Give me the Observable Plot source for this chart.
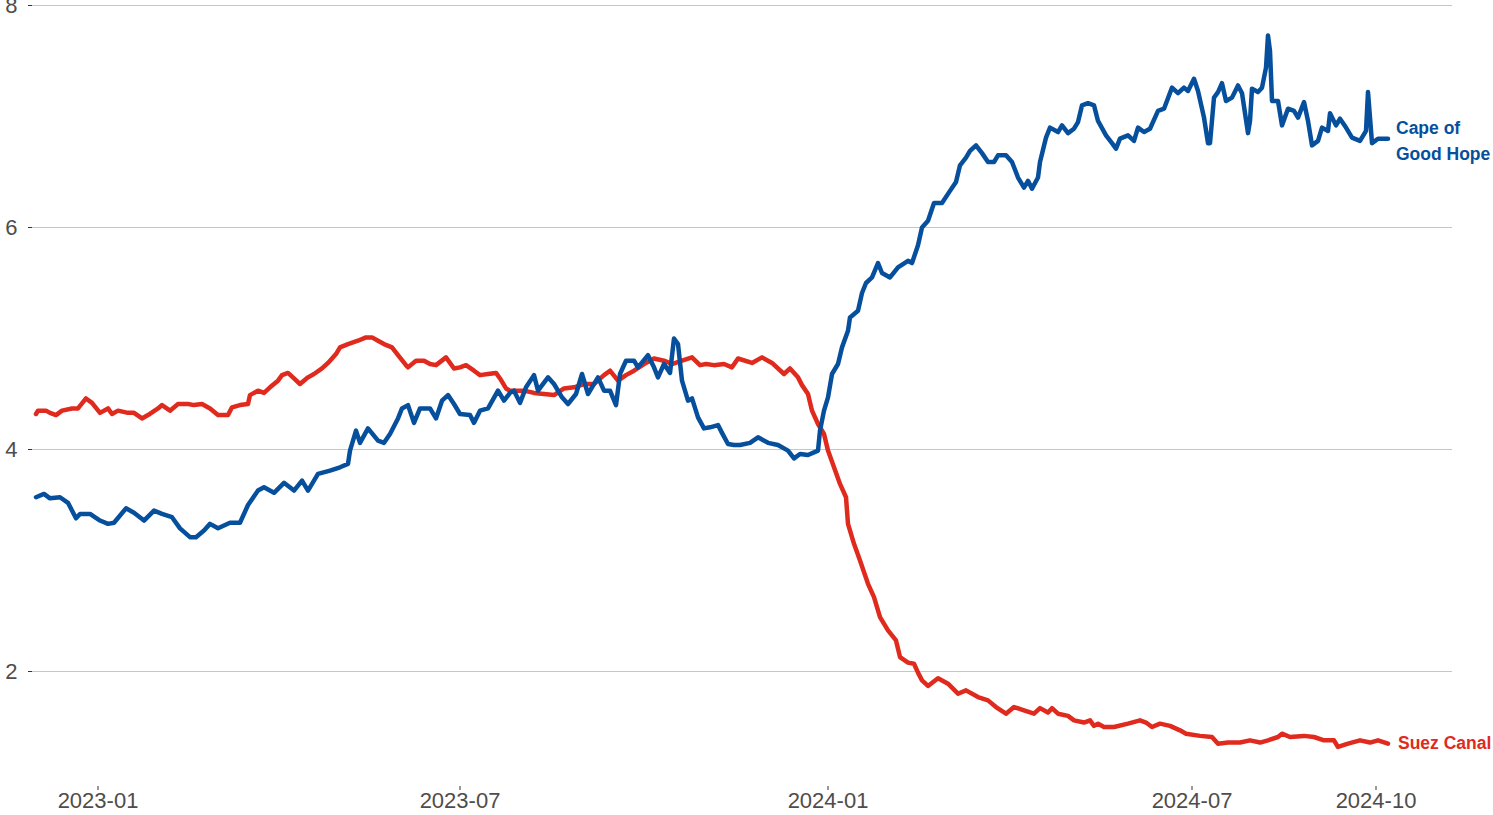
<!DOCTYPE html>
<html><head><meta charset="utf-8">
<script src="https://cdn.jsdelivr.net/npm/d3@7"></script>
<script src="https://cdn.jsdelivr.net/npm/@observablehq/plot@0.6"></script>
<style>html,body{margin:0;padding:0;background:#fff;overflow:hidden} svg{display:block}</style>
</head><body><div id="chart"></div>
<script>
// Cape of Good Hope route
const capeDates = [
"2022-12-01","2022-12-05","2022-12-08","2022-12-13","2022-12-17","2022-12-21","2022-12-23","2022-12-28",
"2023-01-02","2023-01-06","2023-01-09","2023-01-15","2023-01-19","2023-01-24","2023-01-29",
"2023-02-02","2023-02-07","2023-02-11","2023-02-16","2023-02-19","2023-02-23","2023-02-26",
"2023-03-02","2023-03-08","2023-03-13","2023-03-17","2023-03-22","2023-03-25","2023-03-30",
"2023-04-04","2023-04-09","2023-04-13","2023-04-16","2023-04-21","2023-04-27",
"2023-05-02","2023-05-06","2023-05-07","2023-05-10","2023-05-12","2023-05-16","2023-05-21","2023-05-24","2023-05-27","2023-05-31",
"2023-06-02","2023-06-05","2023-06-08","2023-06-11","2023-06-16","2023-06-19","2023-06-22","2023-06-25","2023-06-28",
"2023-07-01","2023-07-06","2023-07-08","2023-07-11","2023-07-15","2023-07-20","2023-07-23","2023-07-26","2023-07-28","2023-07-31",
"2023-08-03","2023-08-07","2023-08-09","2023-08-14","2023-08-17","2023-08-21","2023-08-24","2023-08-28","2023-08-31",
"2023-09-03","2023-09-08","2023-09-11","2023-09-14","2023-09-17","2023-09-19","2023-09-22","2023-09-26","2023-09-28",
"2023-10-03","2023-10-06","2023-10-08","2023-10-11","2023-10-14","2023-10-16","2023-10-18","2023-10-20","2023-10-23","2023-10-25","2023-10-28","2023-10-31",
"2023-11-03","2023-11-07","2023-11-09","2023-11-12","2023-11-15","2023-11-18","2023-11-23","2023-11-27",
"2023-12-02","2023-12-07","2023-12-12","2023-12-15","2023-12-18","2023-12-22","2023-12-27","2023-12-28","2023-12-30",
"2024-01-01","2024-01-03","2024-01-06","2024-01-08","2024-01-11","2024-01-12","2024-01-16","2024-01-18","2024-01-20","2024-01-23","2024-01-26","2024-01-28",
"2024-02-01","2024-02-05","2024-02-10","2024-02-12","2024-02-15","2024-02-17","2024-02-20","2024-02-23","2024-02-27",
"2024-03-02","2024-03-05","2024-03-07","2024-03-10","2024-03-12","2024-03-15","2024-03-18","2024-03-21","2024-03-24","2024-03-26","2024-03-30",
"2024-04-02","2024-04-05","2024-04-08","2024-04-10","2024-04-12","2024-04-15","2024-04-16","2024-04-19","2024-04-21","2024-04-25","2024-04-27","2024-04-30",
"2024-05-03","2024-05-05","2024-05-07","2024-05-10","2024-05-13","2024-05-15","2024-05-19","2024-05-22","2024-05-24","2024-05-26","2024-05-30",
"2024-06-02","2024-06-04","2024-06-07","2024-06-10","2024-06-14","2024-06-17","2024-06-21","2024-06-24","2024-06-27","2024-06-29",
"2024-07-02","2024-07-04","2024-07-07","2024-07-09","2024-07-10","2024-07-12","2024-07-14","2024-07-16","2024-07-18","2024-07-21","2024-07-24","2024-07-26","2024-07-29","2024-07-30","2024-07-31",
"2024-08-03","2024-08-05","2024-08-07","2024-08-08","2024-08-09","2024-08-10","2024-08-13","2024-08-15","2024-08-18","2024-08-21","2024-08-23","2024-08-26","2024-08-28","2024-08-30",
"2024-09-02","2024-09-04","2024-09-07","2024-09-08","2024-09-11","2024-09-13","2024-09-16","2024-09-19","2024-09-23","2024-09-26","2024-09-27","2024-09-29",
"2024-10-02","2024-10-07"
];
const capeValues = [
3.57,3.60,3.56,3.57,3.52,3.38,3.42,3.42,
3.36,3.33,3.34,3.47,3.43,3.36,3.45,
3.42,3.39,3.29,3.21,3.21,3.27,3.33,
3.29,3.34,3.34,3.50,3.63,3.66,3.61,
3.70,3.63,3.72,3.63,3.78,3.81,
3.84,3.87,3.99,4.17,4.06,4.19,4.08,4.06,4.14,4.28,
4.37,4.40,4.24,4.37,4.37,4.28,4.44,4.49,4.41,
4.32,4.31,4.24,4.35,4.37,4.53,4.44,4.51,4.53,4.42,
4.56,4.67,4.53,4.65,4.59,4.47,4.41,4.50,4.68,
4.50,4.65,4.53,4.53,4.40,4.68,4.80,4.80,4.74,
4.85,4.74,4.65,4.77,4.69,5.00,4.95,4.62,4.44,4.46,4.29,4.19,
4.20,4.22,4.15,4.05,4.04,4.04,4.06,4.11,
4.06,4.04,3.99,3.92,3.96,3.95,3.99,4.17,4.35,
4.47,4.68,4.77,4.92,5.07,5.19,5.25,5.41,5.50,5.55,5.68,5.59,
5.55,5.64,5.70,5.68,5.84,6.00,6.06,6.22,6.22,
6.33,6.41,6.56,6.63,6.69,6.74,6.67,6.59,6.59,6.65,6.65,
6.59,6.45,6.36,6.42,6.35,6.45,6.59,6.81,6.90,6.86,6.92,6.85,
6.89,6.95,7.10,7.12,7.10,6.96,6.83,6.76,6.71,6.80,6.83,
6.78,6.90,6.86,6.89,7.05,7.07,7.26,7.21,7.26,7.23,
7.34,7.23,6.99,6.76,6.76,7.17,7.22,7.30,7.14,7.17,7.28,7.21,6.85,6.96,7.25,
7.22,7.26,7.44,7.73,7.59,7.14,7.14,6.92,7.07,7.05,6.99,7.13,6.96,6.74,
6.78,6.90,6.87,7.03,6.92,6.98,6.90,6.81,6.78,6.87,7.22,6.76,
6.80,6.80
];

// Suez Canal route
const suezDates = [
"2022-12-01","2022-12-02","2022-12-06","2022-12-08","2022-12-11","2022-12-14","2022-12-19","2022-12-22","2022-12-26","2022-12-29",
"2023-01-02","2023-01-06","2023-01-08","2023-01-11","2023-01-16","2023-01-19","2023-01-23","2023-01-26","2023-01-31",
"2023-02-02","2023-02-06","2023-02-10","2023-02-15","2023-02-18","2023-02-22","2023-02-26",
"2023-03-02","2023-03-07","2023-03-09","2023-03-13","2023-03-17","2023-03-18","2023-03-22","2023-03-25","2023-03-28",
"2023-04-01","2023-04-03","2023-04-06","2023-04-09","2023-04-12","2023-04-16","2023-04-19","2023-04-23","2023-04-26","2023-04-30",
"2023-05-02","2023-05-06","2023-05-11","2023-05-15","2023-05-18","2023-05-21","2023-05-24","2023-05-28","2023-05-31",
"2023-06-04","2023-06-05","2023-06-09","2023-06-13","2023-06-16","2023-06-19","2023-06-24","2023-06-28",
"2023-07-01","2023-07-04","2023-07-08","2023-07-11","2023-07-15","2023-07-19","2023-07-21","2023-07-24","2023-07-26","2023-07-28",
"2023-08-02","2023-08-07","2023-08-12","2023-08-17","2023-08-22","2023-08-27",
"2023-09-01","2023-09-06","2023-09-11","2023-09-14","2023-09-18","2023-09-22","2023-09-26",
"2023-10-01","2023-10-06","2023-10-11","2023-10-15","2023-10-20","2023-10-25","2023-10-29",
"2023-11-01","2023-11-05","2023-11-10","2023-11-14","2023-11-17","2023-11-24","2023-11-29",
"2023-12-04","2023-12-10","2023-12-13","2023-12-17","2023-12-19","2023-12-22","2023-12-24","2023-12-27","2023-12-30",
"2024-01-01","2024-01-04","2024-01-07","2024-01-10","2024-01-11","2024-01-14","2024-01-17","2024-01-21","2024-01-24","2024-01-27","2024-01-31",
"2024-02-04","2024-02-06","2024-02-10","2024-02-13","2024-02-15","2024-02-17","2024-02-20","2024-02-25",
"2024-03-01","2024-03-06","2024-03-10","2024-03-16","2024-03-21","2024-03-25","2024-03-30",
"2024-04-03","2024-04-08","2024-04-13","2024-04-16","2024-04-20","2024-04-22","2024-04-25","2024-04-30",
"2024-05-03","2024-05-08","2024-05-11","2024-05-13","2024-05-15","2024-05-18","2024-05-23","2024-05-30",
"2024-06-05","2024-06-08","2024-06-11","2024-06-15","2024-06-20","2024-06-25","2024-06-28",
"2024-07-05","2024-07-11","2024-07-14","2024-07-19","2024-07-25","2024-07-30",
"2024-08-04","2024-08-08","2024-08-13","2024-08-15","2024-08-19","2024-08-26","2024-08-31",
"2024-09-05","2024-09-10","2024-09-12","2024-09-17","2024-09-23","2024-09-28",
"2024-10-02","2024-10-07"
];
const suezValues = [
4.32,4.35,4.35,4.33,4.31,4.35,4.37,4.37,4.46,4.42,
4.33,4.37,4.32,4.35,4.33,4.33,4.28,4.31,4.37,
4.40,4.35,4.41,4.41,4.40,4.41,4.37,
4.31,4.31,4.38,4.40,4.41,4.49,4.53,4.51,4.56,
4.62,4.67,4.69,4.64,4.59,4.65,4.68,4.73,4.78,4.86,
4.92,4.95,4.98,5.01,5.01,4.98,4.95,4.92,4.85,
4.76,4.74,4.80,4.80,4.77,4.76,4.83,4.73,
4.74,4.76,4.71,4.67,4.68,4.69,4.64,4.55,4.53,4.53,
4.53,4.51,4.50,4.49,4.55,4.56,
4.59,4.59,4.67,4.71,4.62,4.67,4.71,
4.77,4.82,4.80,4.77,4.80,4.83,4.76,
4.77,4.76,4.77,4.74,4.82,4.78,4.83,
4.78,4.68,4.73,4.65,4.58,4.50,4.35,4.23,4.14,
3.99,3.84,3.69,3.57,3.33,3.15,3.00,2.79,2.67,2.49,2.37,
2.28,2.13,2.08,2.07,1.99,1.92,1.87,1.94,
1.89,1.80,1.83,1.77,1.74,1.68,1.62,
1.68,1.65,1.62,1.67,1.63,1.67,1.62,1.60,
1.56,1.54,1.56,1.51,1.53,1.50,1.50,1.53,
1.56,1.54,1.50,1.53,1.51,1.47,1.44,
1.42,1.41,1.35,1.36,1.36,1.38,
1.36,1.38,1.41,1.44,1.41,1.42,1.41,
1.38,1.38,1.32,1.35,1.38,1.36,
1.38,1.35
];

const xTickDates = ["2023-01-01","2023-07-01","2024-01-01","2024-07-01","2024-10-01"];
const yTicks = [2, 4, 6, 8];
const seriesLabels = {cape: "Cape of\nGood Hope", suez: "Suez Canal"};
const colors = {cape: "#064f9c", suez: "#e02a1d"};

const parse = d3.utcParse("%Y-%m-%d");
const cape = capeDates.map((d, i) => ({date: parse(d), value: capeValues[i]}));
const suez = suezDates.map((d, i) => ({date: parse(d), value: suezValues[i]}));
const xTicks = xTickDates.map(parse);

const chart = Plot.plot({
  width: 1493,
  height: 815,
  marginTop: 3,
  marginBottom: 29,
  marginLeft: 32,
  marginRight: 41,
  style: {fontFamily: "'Liberation Sans', Arial, sans-serif", background: "#ffffff", overflow: "visible"},
  x: {type: "utc", domain: [new Date(Date.UTC(2022, 10, 29, 6)), new Date(Date.UTC(2024, 10, 8, 6))], range: [32, 1452]},
  y: {domain: [0.964, 8.018], range: [786, 3]},
  marks: [
    Plot.ruleY(yTicks, {stroke: "#c6c6c6", strokeWidth: 1}),
    Plot.axisY({ticks: yTicks, tickSize: 4, tickPadding: 11, fontSize: 22, stroke: "#333333", fill: "#4d4d4d", label: null, tickFormat: d => String(d)}),
    Plot.axisX({ticks: xTicks, tickSize: 4, tickPadding: 2, fontSize: 22, stroke: "#333333", fill: "#4d4d4d", label: null, tickFormat: d3.utcFormat("%Y-%m")}),
    Plot.line(suez, {x: "date", y: "value", stroke: colors.suez, strokeWidth: 4.5}),
    Plot.line(cape, {x: "date", y: "value", stroke: colors.cape, strokeWidth: 4.5}),
    Plot.text([cape[cape.length - 1]], {x: "date", y: "value", text: () => seriesLabels.cape, dx: 8, textAnchor: "start", lineHeight: 1.5, fontWeight: "bold", fontSize: 17.5, fill: colors.cape}),
    Plot.text([suez[suez.length - 1]], {x: "date", y: "value", text: () => seriesLabels.suez, dx: 10, textAnchor: "start", fontWeight: "bold", fontSize: 17.5, fill: colors.suez})
  ]
});
document.getElementById("chart").append(chart);
</script>
</body></html>
